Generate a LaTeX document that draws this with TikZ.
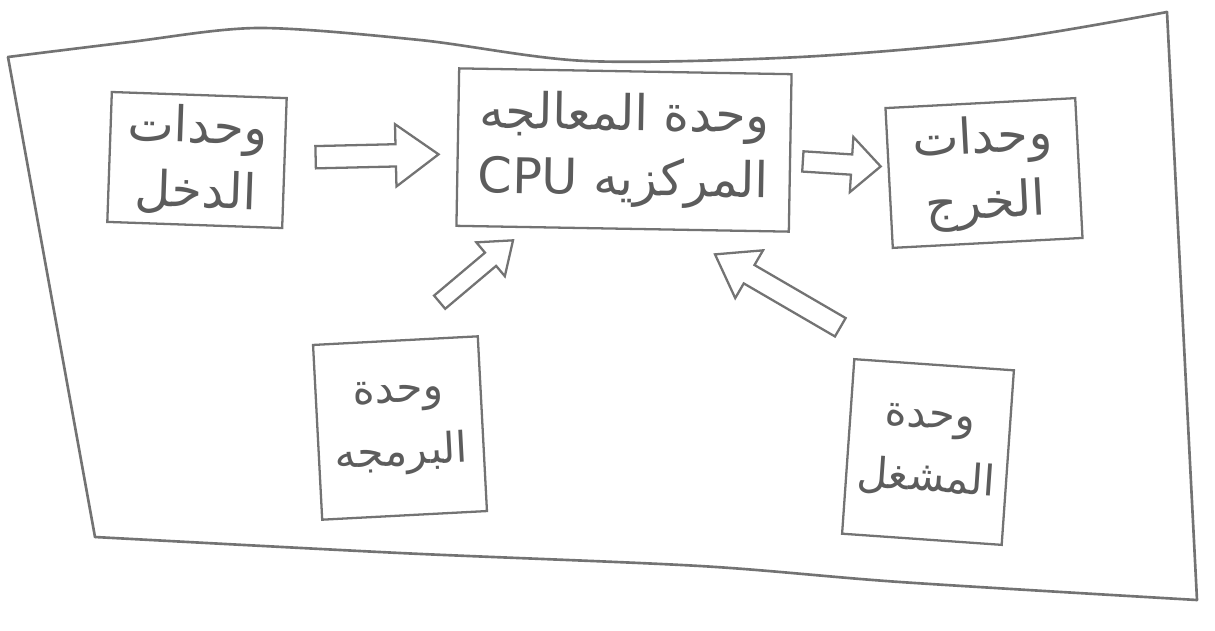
\documentclass[tikz,border=0pt]{standalone}
\usepackage{fontspec}
\usetikzlibrary{shapes.arrows}
\newfontfamily\arabicfont[Script=Arabic]{DejaVu Sans}
\TeXXeTstate=1
\newcommand{\artxt}[1]{\beginR #1\endR}
\definecolor{pencil}{gray}{0.45}

\begin{document}
\begin{tikzpicture}[x=0.02cm, y=-0.02cm,
    outline/.style={draw=pencil, line width=1.5pt, line join=round, line cap=round},
    unit/.style={draw=pencil, line width=1.3pt, text=pencil!80!black, inner sep=0pt,
        font=\arabicfont\fontsize{28}{37}\selectfont, align=center},
    smallunit/.style={unit, font=\arabicfont\fontsize{24}{36}\selectfont},
    flow/.style={single arrow, draw=pencil, line width=1.3pt, inner xsep=0pt,
        sloped, allow upside down}]
    \useasboundingbox (0,0) rectangle (1215,630);

    % Cadre
    \draw[outline] plot[smooth] coordinates {(8,57) (130,42) (258,28) (420,40) (586,61) (800,57) (1000,40) (1167,12)};
    \draw[outline] (1167,12) -- (1197,600);
    \draw[outline] plot[smooth] coordinates {(1197,600) (900,582) (700,566) (400,553) (95,537)};
    \draw[outline] (95,537) -- (8,57);

    % Unites
    \node[unit, rotate=-2, minimum width=3.5cm, minimum height=2.6cm] (in) at (197,160) {\artxt{وحدات}\\\artxt{الدخل}};
    \node[unit, rotate=-1, minimum width=6.65cm, minimum height=3.15cm] (cpu) at (624,150) {\artxt{وحدة المعالجه}\\\artxt{المركزيه \beginL CPU\endL}};
    \node[unit, rotate=3, minimum width=3.8cm, minimum height=2.8cm] (out) at (984,173) {\artxt{وحدات}\\\artxt{الخرج}};
    \node[smallunit, rotate=3, minimum width=3.3cm, minimum height=3.5cm] (prog) at (400,428) {\artxt{وحدة}\\\artxt{البرمجه}};
    \node[smallunit, rotate=-4, minimum width=3.2cm, minimum height=3.5cm] (oper) at (928,452) {\artxt{وحدة}\\\artxt{المشغل}};

    % Fleches
    \path (in) -- node[flow, pos=0.49, minimum height=2.46cm, inner ysep=0.2cm,
        single arrow head extend=0.4cm, single arrow tip angle=72] {} (cpu);
    \path (cpu) -- node[flow, pos=0.47, minimum height=1.56cm, inner ysep=0.18cm,
        single arrow head extend=0.35cm, single arrow tip angle=87] {} (out);
    \path (prog.north) -- node[flow, pos=0.58, minimum height=1.92cm, inner ysep=0.15cm,
        single arrow head extend=0.27cm, single arrow tip angle=74] {} (cpu.220);
    \path (oper.112) -- node[flow, pos=0.51, minimum height=2.9cm, inner ysep=0.19cm,
        single arrow head extend=0.34cm, single arrow tip angle=70] {} (cpu.303);
\end{tikzpicture}
\end{document}
